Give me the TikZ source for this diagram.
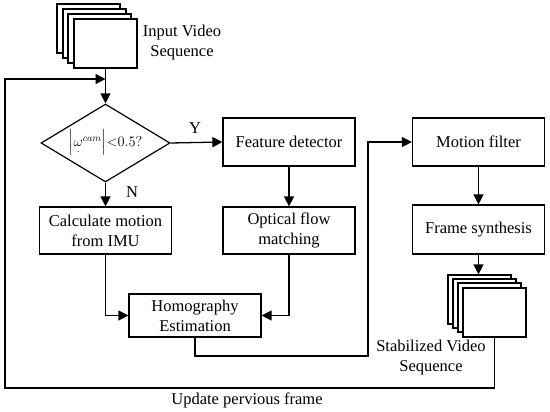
\documentclass[tikz,border=0pt]{standalone}
\usepackage{amsmath}
\usepackage{fontspec}
\setmainfont{Liberation Serif}
\usetikzlibrary{shapes.geometric,arrows.meta}
\begin{document}
\begin{tikzpicture}[x=1pt,y=-1pt,
 box/.style={draw,line width=1.2pt,minimum width=132pt,minimum height=48pt,align=center,inner sep=2pt,font=\fontsize{16.5}{20}\selectfont},
 frm/.style={draw,line width=1.2pt,fill=white,minimum width=63pt,minimum height=49pt,inner sep=0pt},
 arr/.style={line width=1.3pt,-{Triangle[length=10pt,width=10pt]}},
 lab/.style={font=\fontsize{16.5}{20}\selectfont,align=center}]
\useasboundingbox (0,0) rectangle (550,412);
% input stack
\node[frm] (in1) at (88.5,28.5) {};
\node[frm] (in2) at (94.5,33.5) {};
\node[frm] (in3) at (99.5,38.5) {};
\node[frm] (in4) at (105.5,43.5) {};
\node[lab] (intxt) at (182,43) {Input Video\\Sequence};
% decision
\node[draw,diamond,line width=1.2pt,minimum width=129pt,minimum height=78pt,inner sep=0pt,aspect=1.65] (dec) at (105.5,143) {};
\node[inner sep=0pt,font=\fontsize{14}{17}\selectfont] (form) at (dec.center) {$\Bigl|\underset{\cdot}{\omega}^{cam}\Bigr|{<}0.5?$};
\node[lab] (ylab) at (195,128) {Y};
\node[lab] (nlab) at (132,192) {N};
% boxes
\node[box] (fd) at (289,142) {Feature detector};
\node[box] (mf) at (478.5,142) {Motion filter};
\node[box,minimum height=47pt] (calc) at (105.5,230.5) {Calculate motion\\from IMU};
\node[box,minimum height=47pt] (ofm) at (289,230.5) {Optical flow\\matching};
\node[box,minimum height=49pt] (fs) at (478.5,229.5) {Frame synthesis};
\node[box,minimum height=43pt] (hom) at (195,315.5) {Homography\\Estimation};
% output stack
\node[frm] (out1) at (479.5,299.5) {};
\node[frm] (out2) at (484.5,303.5) {};
\node[frm] (out3) at (489.5,307.5) {};
\node[frm] (out4) at (494.5,312.5) {};
\node[lab] (outtxt) at (431,358) {Stabilized Video\\Sequence};
\node[lab] (updtxt) at (247,400) {Update pervious frame};
% helper coordinates
\coordinate (merge) at (105.5,79);
\coordinate (c1) at (368,356);
\coordinate (c2) at (5,388);
% connectors
\draw[arr] (in4.south) -- (dec.north);
\draw[arr] (dec.east) -- (fd.west);
\draw[arr] (dec.south) -- (calc.north);
\draw[arr] (fd.south) -- (ofm.north);
\draw[arr] (calc.south) |- (hom.west);
\draw[arr] (ofm.south) |- (hom.east);
\draw[arr] (hom.south) |- (c1) |- (mf.west);
\draw[arr] (mf.south) -- (fs.north);
\draw[arr] (fs.south) -- (fs.south |- out1.north);
\draw[arr] (out4.south) |- (c2) |- (merge);
\end{tikzpicture}
\end{document}
